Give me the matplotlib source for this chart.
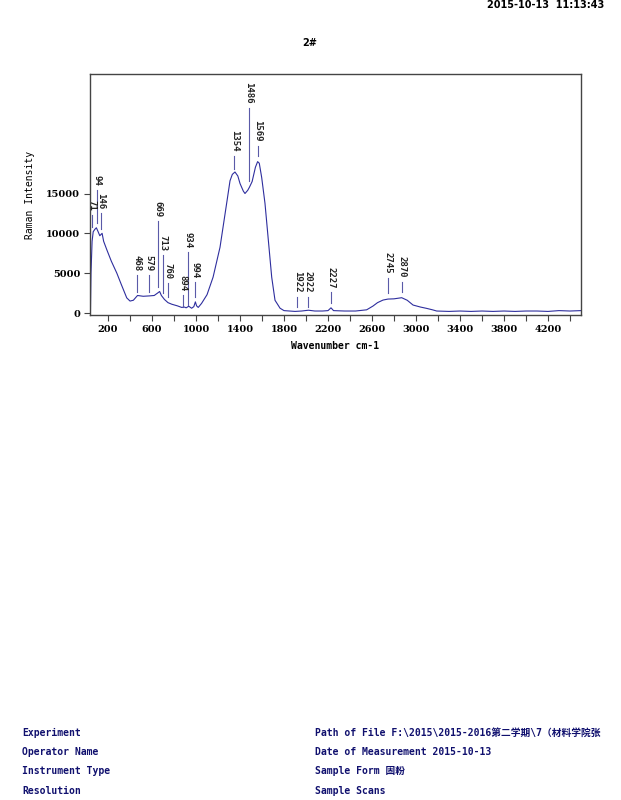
import matplotlib
matplotlib.use("Agg")
import matplotlib.pyplot as plt
import numpy as np

# ---- data ----
wavenumber = [40, 45, 55, 65, 80, 94, 110, 125, 146, 160, 190, 230, 280, 320, 370, 400, 430,
              468, 520, 579, 620, 650, 669, 685, 713, 745, 780, 830, 870, 894, 910, 934, 960,
              980, 994, 1005, 1020, 1050, 1100, 1155, 1218, 1282, 1309, 1330, 1354, 1380, 1400,
              1430, 1445, 1470, 1486, 1510, 1540, 1560, 1575, 1597, 1627, 1655, 1688, 1718,
              1764, 1800, 1900, 1960, 2022, 2080, 2150, 2200, 2227, 2250, 2350, 2450, 2551,
              2609, 2650, 2700, 2745, 2800, 2870, 2920, 2973, 3040, 3097, 3150, 3188, 3300,
              3400, 3500, 3600, 3700, 3800, 3900, 4000, 4100, 4200, 4300, 4400, 4500]
intensity = [0, 5000, 9000, 10200, 10500, 10700, 10200, 9700, 10000, 9000, 7900, 6500, 5000,
             3600, 1900, 1500, 1600, 2200, 2100, 2150, 2200, 2500, 2700, 2200, 1700, 1300, 1100,
             900, 700, 750, 650, 850, 600, 800, 1400, 900, 700, 1200, 2300, 4500, 8250, 14100,
             16600, 17400, 17700, 17200, 16250, 15300, 15000, 15400, 15800, 16500, 18300, 19000,
             18800, 17000, 13750, 9500, 4500, 1600, 600, 300, 200, 250, 350, 250, 250, 300, 650,
             300, 250, 250, 400, 875, 1300, 1625, 1750, 1780, 1920, 1600, 1000, 750, 580, 400,
             250, 200, 250, 200, 250, 200, 250, 200, 250, 250, 200, 300, 250, 300]

peak_pos = [57, 97, 136, 464, 573, 655, 700, 745, 881, 927, 991, 1348, 1482, 1560, 1922, 2022, 2225, 2745, 2870]
peak_labels = ["71", "94", "146", "468", "579", "669", "713", "760", "894", "934", "994",
               "1354", "1486", "1569", "1922", "2022", "2227", "2745", "2870"]
marker_bottom = [10750, 11250, 10600, 2600, 2600, 3250, 2500, 2000, 750, 1000, 2000,
                 18100, 16600, 19750, 750, 750, 1250, 2500, 2600]
marker_top = [12250, 15500, 12500, 4750, 4750, 11500, 7250, 3750, 2250, 7600, 3900,
              19750, 25750, 21000, 2000, 2000, 2600, 4400, 3900]

x_major = list(range(200, 4201, 400))
x_minor = list(range(400, 4401, 400))
y_ticks = [0, 5000, 10000, 15000]

left_info = ["Experiment", "Operator Name", "Instrument Type", "Resolution"]
right_info = ["Path of File F:\\2015\\2015-2016第二学期\\7（材料学院张",
              "Date of Measurement 2015-10-13",
              "Sample Form 固粉",
              "Sample Scans"]

# ---- figure ----
W, H = 621, 800
fig = plt.figure(figsize=(W / 100, H / 100), dpi=100)
fig.patch.set_facecolor("white")

ax = fig.add_axes([90 / W, 1 - 315 / H, (581 - 90) / W, (315 - 74) / H])
ax.plot(wavenumber, intensity, color="#2e2e9e", lw=0.8)
ax.set_xlim(36, 4500)
ax.set_ylim(-250, 30000)

for p, lab, b, t in zip(peak_pos, peak_labels, marker_bottom, marker_top):
    ax.plot([p, p], [b, t], color="#5a5aa8", lw=0.8)
    ax.annotate(lab, xy=(p, t), xytext=(0, 3), textcoords="offset points",
                rotation=270, ha="center", va="bottom", fontsize=6.5, fontweight="bold",
                family="DejaVu Sans Mono", color="#222222")

for s in ax.spines.values():
    s.set_color("#444444")
    s.set_linewidth(1.0)

ax.set_xticks(x_major)
ax.set_xticklabels([str(v) for v in x_major], fontsize=7, fontweight="bold", family="DejaVu Serif")
ax.set_xticks(x_minor, minor=True)
ax.set_yticks(y_ticks)
ax.set_yticklabels([str(v) for v in y_ticks], fontsize=7, fontweight="bold", family="DejaVu Serif")
ax.tick_params(axis="both", which="both", direction="out", length=4, width=0.8, color="#444444", pad=3)

ax.set_xlabel("Wavenumber cm-1", fontsize=7, fontweight="bold", family="DejaVu Sans Mono", labelpad=5)
ax.set_ylabel("Raman Intensity", fontsize=7, family="DejaVu Sans Mono", labelpad=8)

fig.text(310 / W, 1 - 43 / H, "2#", ha="center", va="center", fontsize=7, fontweight="bold")
fig.text(604 / W, 1 - 5 / H, "2015-10-13  11:13:43", ha="right", va="center", fontsize=7,
         fontweight="bold", family="Liberation Sans Narrow")

fam = ["DejaVu Sans Mono", "Noto Sans CJK SC"]
ys = [733, 752, 771, 791]
for y, a, b in zip(ys, left_info, right_info):
    fig.text(22 / W, 1 - y / H, a, ha="left", va="center", fontsize=7, fontweight="bold",
             color="#10106e", family=fam)
    fig.text(315 / W, 1 - y / H, b, ha="left", va="center", fontsize=7, fontweight="bold",
             color="#10106e", family=fam)

fig.savefig("out.png", dpi=100, facecolor="white")
